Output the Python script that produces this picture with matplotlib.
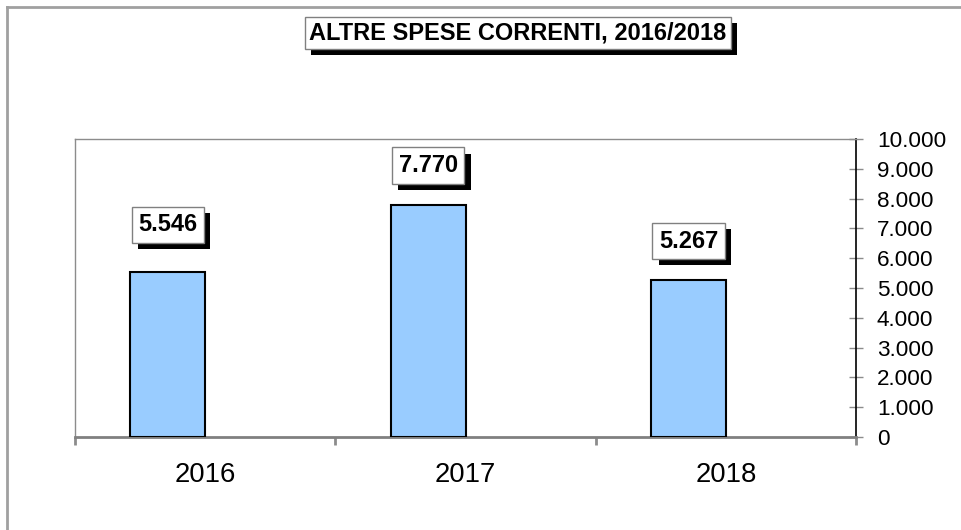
import matplotlib
matplotlib.use("Agg")
import matplotlib.pyplot as plt
import matplotlib.patheffects as pe
from matplotlib.ticker import FuncFormatter, MultipleLocator
from matplotlib.lines import Line2D

plt.rcParams['font.family'] = ['Liberation Sans', 'DejaVu Sans']

years = ["2016", "2017", "2018"]
values = [5546, 7770, 5267]
value_labels = ["5.546", "7.770", "5.267"]
title = "ALTRE SPESE CORRENTI, 2016/2018"

label_offsets_px = [47, 40, 39]
bar_shift = -0.143   # bars sit left of category centre (Excel cluster slot)
bar_width = 0.288

fig = plt.figure(figsize=(9.61, 5.30), dpi=100)
ax = fig.add_axes([75/961, 1-437/530, (856-75)/961, (437-139)/530])

x = list(range(len(years)))
xb = [i + bar_shift for i in x]
ax.bar(xb, values, width=bar_width, color="#99CCFF", edgecolor="black", linewidth=1.5, zorder=3)
ax.set_xlim(-0.5, len(years)-0.5)
ax.set_ylim(0, 10000)

# spines
for s in ['left', 'top']:
    ax.spines[s].set_color('#8c8c8c')
    ax.spines[s].set_linewidth(1.0)
ax.spines['bottom'].set_color('#808080')
ax.spines['bottom'].set_linewidth(2.0)
ax.spines['right'].set_color('black')
ax.spines['right'].set_linewidth(1.2)

# y axis on right
ax.yaxis.tick_right()
ax.yaxis.set_major_locator(MultipleLocator(1000))
ax.yaxis.set_major_formatter(FuncFormatter(lambda v, p: f"{int(v):,}".replace(",", ".")))
ax.tick_params(axis='y', direction='inout', length=10, width=1, color='#8c8c8c',
               labelsize=16.2, pad=10, labelcolor='black')

# x axis: ticks at category boundaries, labels at centers
ax.set_xticks([i - 0.5 for i in range(len(years)+1)])
ax.set_xticklabels([])
ax.tick_params(axis='x', direction='out', length=6, width=2, color='#8c8c8c')
ax.set_xticks(x, minor=True)
ax.set_xticklabels(years, minor=True)
ax.tick_params(axis='x', which='minor', length=0, labelsize=19.8, pad=18)

# value labels with shadow boxes
for xi, v, lab, off in zip(xb, values, value_labels, label_offsets_px):
    t = ax.annotate(lab, xy=(xi, v), xytext=(0, off*72/100), textcoords='offset points',
                    ha='center', va='center', fontsize=17, fontweight='bold',
                    bbox=dict(boxstyle='square,pad=0.28', fc='white', ec='#808080', lw=1),
                    zorder=5)
    t.get_bbox_patch().set_path_effects([
        pe.SimplePatchShadow(offset=(4.5, -4.5), shadow_rgbFace='black', alpha=1),
        pe.Normal()])

# title with shadow box
tt = fig.text(518/961, 1-33/530, title, ha='center', va='center', fontsize=17,
              fontweight='bold',
              bbox=dict(boxstyle='square,pad=0.2', fc='white', ec='#808080', lw=1))
tt.get_bbox_patch().set_path_effects([
    pe.SimplePatchShadow(offset=(4.3, -4.3), shadow_rgbFace='black', alpha=1),
    pe.Normal()])

# outer border (left and top only visible)
fig.add_artist(Line2D([7/961, 7/961], [0, 1-7/530], transform=fig.transFigure,
                      color='#a0a0a0', lw=2))
fig.add_artist(Line2D([7/961, 1], [1-7/530, 1-7/530], transform=fig.transFigure,
                      color='#a0a0a0', lw=2))

fig.savefig("out.png", dpi=100)
